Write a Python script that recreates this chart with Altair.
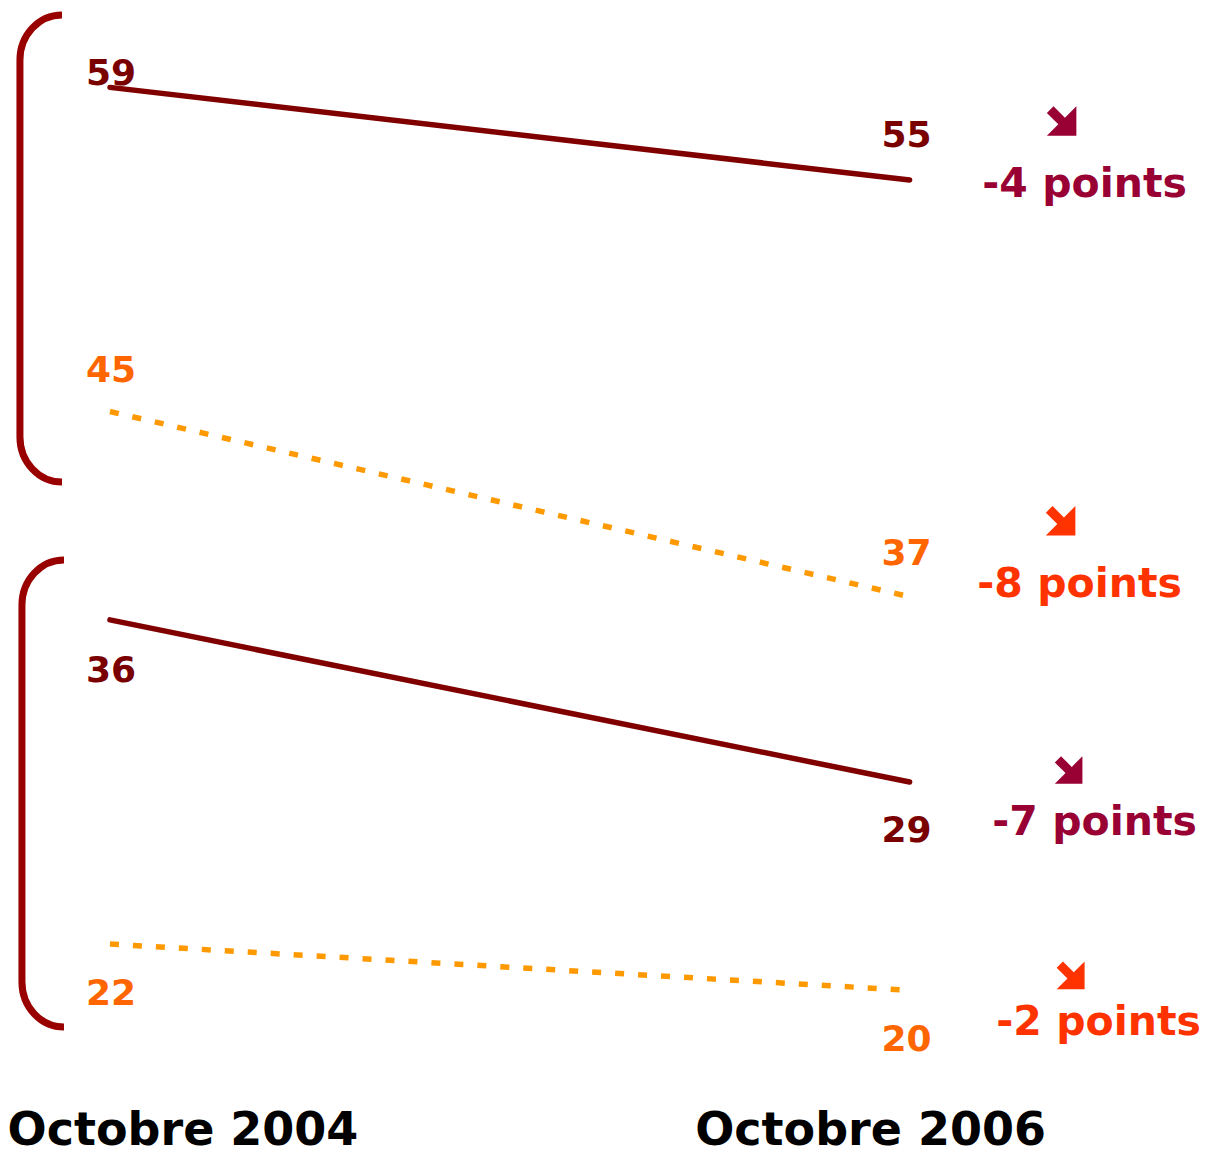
import altair as alt
import pandas as pd

# ---- data ----
periods = ["Octobre 2004", "Octobre 2006"]
series = ["S1", "S2", "S3", "S4"]
groups = ["G1", "G1", "G2", "G2"]
values_2004 = [59, 45, 36, 22]
values_2006 = [55, 37, 29, 20]
changes = ["-4 points", "-8 points", "-7 points", "-2 points"]

rows = []
for s, g, a, b in zip(series, groups, values_2004, values_2006):
    rows.append({"series": s, "group": g, "period": periods[0], "pos": 0, "value": a})
    rows.append({"series": s, "group": g, "period": periods[1], "pos": 1, "value": b})
long_df = pd.DataFrame(rows)
wide_df = pd.DataFrame({"series": series, "group": groups, "v2004": values_2004,
                        "v2006": values_2006, "change": changes})
group_df = (wide_df.groupby("group")
            .agg(top=("v2004", "first"), bottom=("v2004", "last"))
            .reset_index())
group_df["mid"] = (group_df["top"] + group_df["bottom"]) / 2
period_df = pd.DataFrame({"period": periods, "pos": [0, 1]})

# ---- styles ----
FONT = "DejaVu Sans"
DARK = "#800000"
DARK_LABEL = "#7A0000"
ORANGE_LINE = "#FF9900"
ORANGE_LABEL = "#FF6600"
CRIMSON = "#990033"
RED_ORANGE = "#FF3300"
BRACKET_COLOR = "#990000"

xscale = alt.Scale(domain=[-0.1275, 1.366875], nice=False, zero=False)
yscale = alt.Scale(domain=[12.889, 62.429], nice=False, zero=False)

def X(field="pos"):
    return alt.X(f"{field}:Q", scale=xscale, axis=None)

def Y(field="value"):
    return alt.Y(f"{field}:Q", scale=yscale, axis=None)

layers = []

# lines
solid = (alt.Chart(long_df)
         .transform_filter(alt.FieldOneOfPredicate(field="series", oneOf=["S1", "S3"]))
         .mark_line(color=DARK, strokeWidth=5.5, strokeCap="round")
         .encode(x=X(), y=Y(), detail="series:N"))
dotted = (alt.Chart(long_df)
          .transform_filter(alt.FieldOneOfPredicate(field="series", oneOf=["S2", "S4"]))
          .mark_line(color=ORANGE_LINE, strokeWidth=5.5, strokeDash=[9, 14])
          .encode(x=X(), y=Y(), detail="series:N"))
layers += [solid, dotted]

# value labels (dx, dy per series / period)
label_style = {
    ("S1", 0): (1, -2, DARK_LABEL), ("S1", 1): (-3, -33, DARK_LABEL),
    ("S2", 0): (1, -30, ORANGE_LABEL), ("S2", 1): (-3, -32, ORANGE_LABEL),
    ("S3", 0): (1, 62, DARK_LABEL), ("S3", 1): (-3, 60, DARK_LABEL),
    ("S4", 0): (1, 61, ORANGE_LABEL), ("S4", 1): (-3, 61, ORANGE_LABEL),
}
for (s, p), (dx, dy, col) in label_style.items():
    layers.append(
        alt.Chart(long_df)
        .transform_filter((alt.datum.series == s) & (alt.datum.pos == p))
        .mark_text(font=FONT, fontWeight="bold", fontSize=36, color=col,
                   align="center", baseline="alphabetic", dx=dx, dy=dy)
        .encode(x=X(), y=Y(), text="value:Q")
    )

# change annotations + arrows
ARROW = "M1,-1 L1,1 L-1,1 L-0.225,0.225 L-1,-0.55 L-0.55,-1 L0.225,-0.225 Z"
change_style = {
    "S1": dict(dx=175, dy=17, col=CRIMSON, ax=152, ay=-59, size=870),
    "S2": dict(dx=170, dy=0, col=RED_ORANGE, ax=151, ay=-76, size=870),
    "S3": dict(dx=185, dy=53, col=CRIMSON, ax=159, ay=-12, size=760),
    "S4": dict(dx=189, dy=45, col=RED_ORANGE, ax=161, ay=-15, size=780),
}
for s, st in change_style.items():
    base = (alt.Chart(wide_df)
            .transform_filter(alt.datum.series == s)
            .transform_calculate(pos="1"))
    layers.append(
        base.mark_text(font=FONT, fontWeight="bold", fontSize=41, color=st["col"],
                       align="center", baseline="alphabetic", dx=st["dx"], dy=st["dy"])
        .encode(x=X(), y=Y("v2006"), text="change:N")
    )
    layers.append(
        base.mark_point(shape=ARROW, filled=True, size=st["size"], color=st["col"],
                        opacity=1, strokeWidth=0, xOffset=st["ax"], yOffset=st["ay"])
        .encode(x=X(), y=Y("v2006"))
    )

# brackets grouping the series
BRACKET = ("M0.09,-1 C-0.0094,-1 -0.09,-0.9136 -0.09,-0.807 "
           "L-0.09,0.807 C-0.09,0.9136 -0.0094,1 0.09,1")
bracket_style = {"G1": (-69, -1), "G2": (-67, 11.5)}
for g, (ox, oy) in bracket_style.items():
    layers.append(
        alt.Chart(group_df)
        .transform_filter(alt.datum.group == g)
        .transform_calculate(pos="0")
        .mark_point(shape=BRACKET, filled=False, size=467 * 467, color=BRACKET_COLOR,
                    strokeWidth=7, opacity=1, xOffset=ox, yOffset=oy)
        .encode(x=X(), y=Y("mid"))
    )

# period labels
period_dx = {0: 73, 1: -39}
for p, dx in period_dx.items():
    layers.append(
        alt.Chart(period_df)
        .transform_filter(alt.datum.pos == p)
        .mark_text(font=FONT, fontWeight="bold", fontSize=46, color="black",
                   align="center", baseline="alphabetic", dx=dx)
        .encode(x=X(), y=alt.value(1137), text="period:N")
    )

chart = (alt.layer(*layers)
         .properties(width=1195, height=1147, padding=0, autosize="none",
                     background="white")
         .configure_view(stroke=None))

chart.save("out.html", embed_options={"renderer": "svg", "actions": False})
